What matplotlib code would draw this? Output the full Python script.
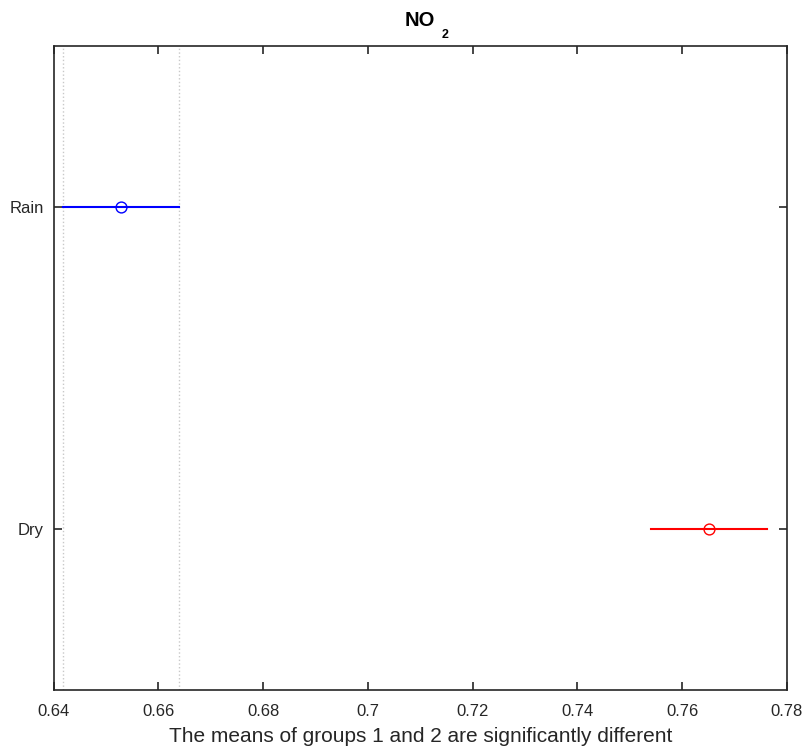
import matplotlib
matplotlib.use('Agg')
import matplotlib.pyplot as plt
import numpy as np

plt.rcParams['font.family'] = ['Liberation Sans', 'DejaVu Sans']

# group estimates and comparison intervals
groups = ['Dry', 'Rain']
means = [0.7651, 0.6529]
lower = [0.7541, 0.6418]
upper = [0.7762, 0.6640]
colors = ['red', 'blue']
selected = 1  # Rain is the selected group (dotted guide lines)

xticks = [0.64, 0.66, 0.68, 0.70, 0.72, 0.74, 0.76, 0.78]
xticklabels = ['0.64', '0.66', '0.68', '0.7', '0.72', '0.74', '0.76', '0.78']

axcol = '#262626'

fig = plt.figure(figsize=(8.05, 7.51), dpi=100)
ax = fig.add_axes([0.0665, 0.0816, 0.9111, 0.8578])

ypos = np.arange(1, len(groups) + 1)
for i in range(len(groups)):
    ax.plot([lower[i], upper[i]], [ypos[i], ypos[i]], color=colors[i], lw=1.5, zorder=3)
    ax.plot(means[i], ypos[i], 'o', mfc='none', mec=colors[i], ms=7.8, mew=1.0, zorder=4)

# dotted guide lines at the selected group's interval
for xv in (lower[selected], upper[selected]):
    ax.axvline(xv, color='#c8c8c8', ls=':', lw=1.0, zorder=1)

ax.set_xlim(0.64, 0.78)
ax.set_ylim(0.5, 2.5)
ax.set_xticks(xticks)
ax.set_xticklabels(xticklabels)
ax.set_yticks(ypos)
ax.set_yticklabels(groups)

ax.tick_params(direction='in', length=6, width=1.2, colors=axcol, labelsize=12,
               top=True, right=True)
ax.tick_params(axis='x', pad=10)
ax.tick_params(axis='y', pad=7)
for s in ax.spines.values():
    s.set_color(axcol)
    s.set_linewidth(1.2)

ax.set_xlabel('The means of groups 1 and 2 are significantly different', fontsize=15,
              color=axcol, labelpad=6)

# title NO with a dropped subscript 2, as MATLAB draws it
ax.set_title('NO', fontsize=14.5, fontweight='bold', color='black', pad=14)
ax.annotate('2', xy=(0.5, 1.0), xycoords='axes fraction', xytext=(21, 7.5),
            textcoords='offset pixels', ha='left', va='baseline',
            fontsize=9, fontweight='bold', color='black')

fig.savefig('out.png', dpi=100)
